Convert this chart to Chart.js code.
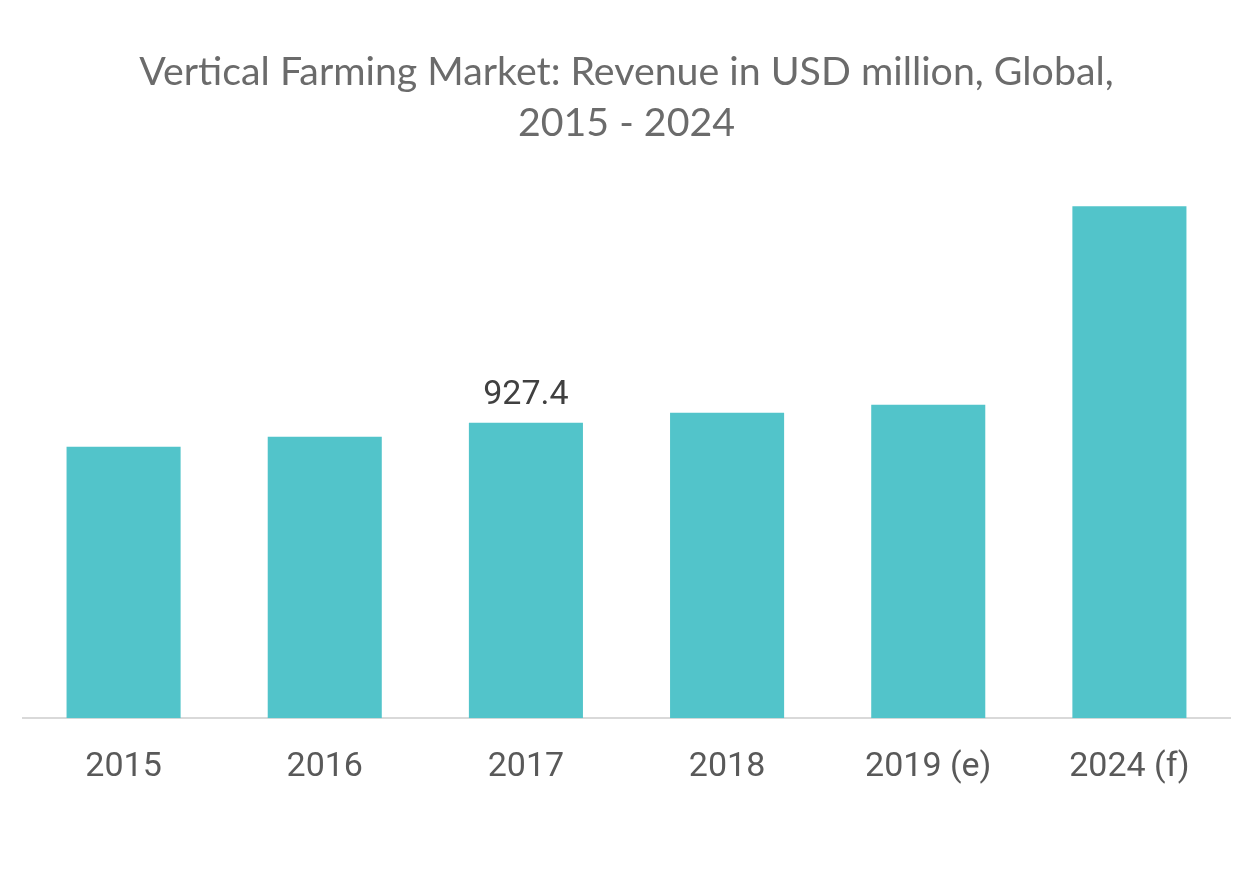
<!DOCTYPE html>
<html>
<head>
<meta charset="utf-8">
<script src="https://cdn.jsdelivr.net/npm/chart.js@4.4.1/dist/chart.umd.min.js"></script>
<style>
  html, body { margin: 0; padding: 0; background: #ffffff; }
  #wrap { width: 1253px; height: 878px; position: relative; }
</style>
</head>
<body>
<div id="wrap"><canvas id="c" width="1253" height="878"></canvas></div>
<script>
const categories = ['2015', '2016', '2017', '2018', '2019 (e)', '2024 (f)'];
const revenue = [852.2, 883.5, 927.4, 958.7, 983.8, 1607.3];
const labelledIndex = [2];
const titleLines = ['Vertical Farming Market: Revenue in USD million, Global,', '2015 - 2024'];

const valueLabels = {
  id: 'valueLabels',
  afterDatasetsDraw(chart) {
    const ctx = chart.ctx;
    const meta = chart.getDatasetMeta(0);
    ctx.save();
    ctx.font = '34px Roboto';
    ctx.fillStyle = '#404040';
    ctx.textAlign = 'center';
    ctx.textBaseline = 'alphabetic';
    labelledIndex.forEach(i => {
      const bar = meta.data[i];
      ctx.fillText(String(revenue[i]), bar.x, bar.y - 19);
    });
    ctx.restore();
  }
};

new Chart(document.getElementById('c'), {
  type: 'bar',
  data: {
    labels: categories,
    datasets: [{
      data: revenue,
      backgroundColor: '#52c4ca',
      borderWidth: 0,
      categoryPercentage: 1.0,
      barPercentage: 0.567
    }]
  },
  options: {
    responsive: false,
    animation: false,
    devicePixelRatio: 1,
    layout: { padding: { left: 23, right: 23, top: 0, bottom: 61 } },
    plugins: {
      legend: { display: false },
      tooltip: { enabled: false },
      title: {
        display: true,
        text: titleLines,
        color: '#6b6b6b',
        font: { family: 'Lato', size: 39.3, weight: 'normal', lineHeight: 1.32 },
        padding: { top: 46, bottom: 27 }
      }
    },
    scales: {
      x: {
        grid: { display: false, drawTicks: false },
        border: { display: true, color: '#d9d9d9', width: 2 },
        ticks: {
          color: '#595959',
          font: { family: 'Roboto', size: 34 },
          padding: 29,
          maxRotation: 0,
          autoSkip: false
        }
      },
      y: {
        display: false,
        min: 0,
        max: 1700
      }
    }
  },
  plugins: [valueLabels]
});
</script>
</body>
</html>
